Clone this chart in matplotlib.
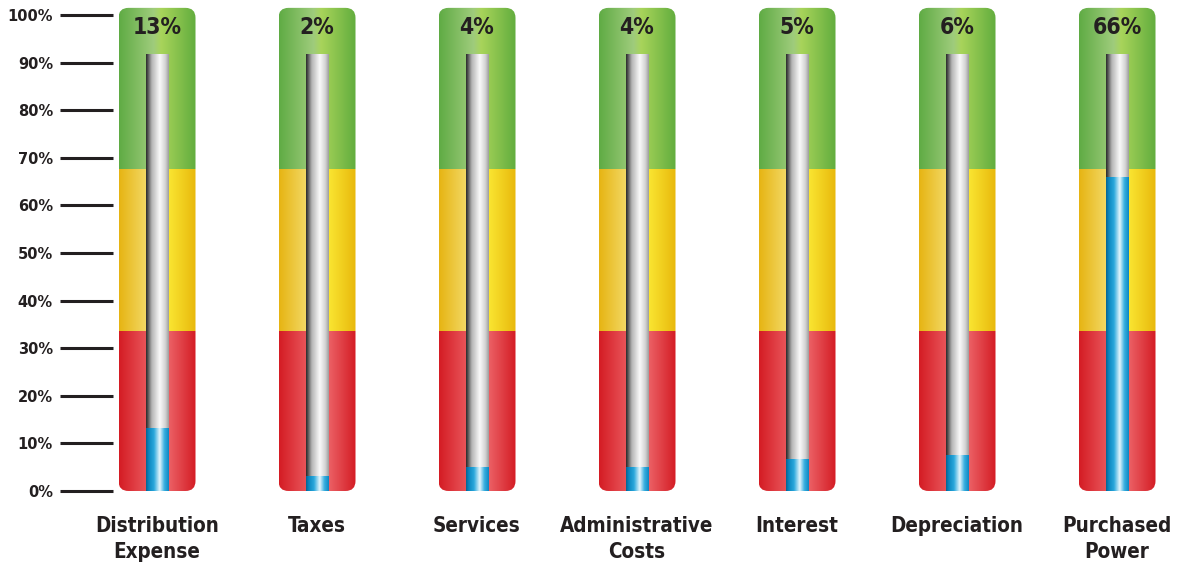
import numpy as np
import matplotlib
matplotlib.use("Agg")
import matplotlib.pyplot as plt
from matplotlib.patches import FancyBboxPatch
from matplotlib.colors import LinearSegmentedColormap
from matplotlib import font_manager as fm

# ---- data ----
categories = ["Distribution\nExpense", "Taxes", "Services", "Administrative\nCosts",
              "Interest", "Depreciation", "Purchased\nPower"]
pct_labels = [13, 2, 4, 4, 5, 6, 66]          # value printed on top
fill_levels = [13.2, 3.0, 5.0, 5.0, 6.6, 7.4, 65.9]  # blue level
band_edges = [0, 33.6, 67.6, 101.5]            # red / yellow / green zones
tube_top = 91.6
yticks = list(range(0, 101, 10))
ytick_labels = [f"{t}%" for t in yticks]

# pick a condensed bold font if available
cond_fp = fm.FontProperties(family="DejaVu Sans", stretch="condensed", weight="bold")
path = fm.findfont(cond_fp, fallback_to_default=False)
if "Condensed" in path:
    COND = dict(family="DejaVu Sans", stretch="condensed", fontweight="bold")
else:
    COND = dict(family="Roboto", fontweight="bold")
cond_size_top, cond_size_cat = 16.5, 14.8

W, H = 1177, 568
fig = plt.figure(figsize=(W / 100, H / 100), dpi=100)
ax_left_px, ax_right_px = 113, 1177
ax_top_px, ax_bot_px = 0, 496
ax = fig.add_axes([ax_left_px / W, (H - ax_bot_px) / H,
                   (ax_right_px - ax_left_px) / W, (ax_bot_px - ax_top_px) / H])
px_per_x = 160.0
px_per_y = 4.76
x0 = -(157 - ax_left_px) / px_per_x
ax.set_xlim(x0, x0 + (ax_right_px - ax_left_px) / px_per_x)
ax.set_ylim(-(ax_bot_px - 491) / px_per_y, (491 - ax_top_px) / px_per_y)

band_w = 77 / px_per_x
tube_w = 22.5 / px_per_x

def cmap(colors, name):
    return LinearSegmentedColormap.from_list(name, colors)

band_cmaps = [
    cmap([(0, "#d41c24"), (0.45, "#ee6468"), (0.55, "#f27478"), (1, "#d41c24")], "r"),
    cmap([(0, "#e6b412"), (0.45, "#f6e27a"), (0.55, "#fff23c"), (1, "#e8b80c")], "y"),
    cmap([(0, "#5fab44"), (0.45, "#9fcc7c"), (0.55, "#a8d45a"), (1, "#62ad3e")], "g"),
]
tube_cmap = cmap([(0, "#2a2a2a"), (0.07, "#4a4a4a"), (0.25, "#b4b4b4"),
                  (0.6, "#fafafa"), (0.85, "#d2d2d2"), (1, "#9c9c9c")], "t")
blue_cmap = cmap([(0, "#06638f"), (0.12, "#0a86bf"), (0.35, "#2aa8dc"),
                  (0.6, "#e4f6fc"), (0.8, "#38b0e0"), (1, "#0b86c0")], "b")
grad = np.linspace(0, 1, 256).reshape(1, -1)

rx = 10 / px_per_x
ry = 10 / px_per_y
for i in range(len(categories)):
    clip = FancyBboxPatch((i - band_w / 2, band_edges[0]), band_w,
                          band_edges[-1] - band_edges[0],
                          boxstyle=f"round,pad=0,rounding_size={rx}",
                          mutation_aspect=ry / rx, facecolor="none",
                          edgecolor="none", transform=ax.transData)
    ax.add_patch(clip)
    for b in range(3):
        im = ax.imshow(grad, cmap=band_cmaps[b], aspect="auto", interpolation="bilinear",
                       extent=[i - band_w / 2, i + band_w / 2, band_edges[b], band_edges[b + 1]],
                       zorder=1)
        im.set_clip_path(clip)
    ax.imshow(grad, cmap=tube_cmap, aspect="auto", interpolation="bilinear",
              extent=[i - tube_w / 2, i + tube_w / 2, 0, tube_top], zorder=2)
    ax.imshow(grad, cmap=blue_cmap, aspect="auto", interpolation="bilinear",
              extent=[i - tube_w / 2, i + tube_w / 2, 0, fill_levels[i]], zorder=3)
    ax.text(i, (491 - 28) / px_per_y, f"{pct_labels[i]}%", ha="center", va="center",
            fontsize=cond_size_top, color="#231f20", zorder=4, **COND)
    ax.text(i, -(516 - 491) / px_per_y, categories[i], ha="center", va="top",
            fontsize=cond_size_cat, color="#231f20", linespacing=1.38,
            clip_on=False, **COND)

ax.set_yticks(yticks)
ax.set_yticklabels(ytick_labels, fontsize=10.5, fontweight="bold", color="#231f20",
                   family=["DejaVu Sans"])
ax.tick_params(axis="y", length=38.2, width=2.2, color="#231f20", pad=5)
ax.set_xticks([])
for s in ax.spines.values():
    s.set_visible(False)
ax.patch.set_alpha(0)

fig.savefig("out.png", dpi=100)
